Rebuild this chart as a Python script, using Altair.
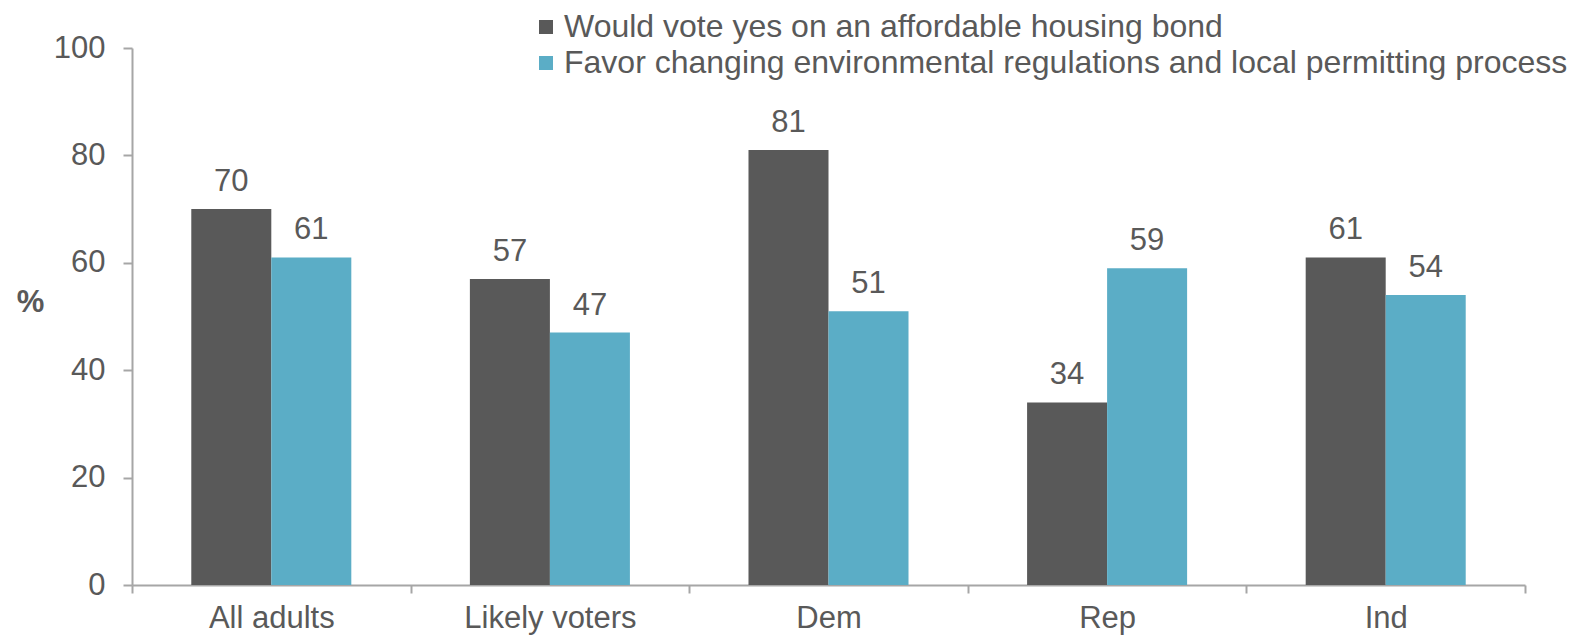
import altair as alt
import pandas as pd

categories = ["All adults", "Likely voters", "Dem", "Rep", "Ind"]
series = [
    "Would vote yes on an affordable housing bond",
    "Favor changing environmental regulations and local permitting process",
]
bond_yes = [70, 57, 81, 34, 61]
favor_change = [61, 47, 51, 59, 54]
colors = ["#595959", "#5BADC6"]
y_ticks = [0, 20, 40, 60, 80, 100]

rows = []
for i, c in enumerate(categories):
    rows.append({"cat": c, "series": series[0], "value": bond_yes[i]})
    rows.append({"cat": c, "series": series[1], "value": favor_change[i]})
df = pd.DataFrame(rows)

FONT = "Liberation Sans"
TXT = "#595959"
AX = "#A6A6A6"
FS = 31

base = alt.Chart(df).encode(
    x=alt.X(
        "cat:N",
        sort=categories,
        scale=alt.Scale(paddingInner=0, paddingOuter=0),
        axis=alt.Axis(
            title=None,
            tickBand="extent",
            labelAngle=0,
            labelFontSize=FS,
            labelFont=FONT,
            labelColor=TXT,
            labelPadding=10,
            domainColor=AX,
            domainWidth=2,
            tickColor=AX,
            tickWidth=2,
            tickSize=8,
        ),
    ),
    xOffset=alt.XOffset(
        "series:N", sort=series, scale=alt.Scale(paddingInner=0, paddingOuter=0.741)
    ),
    y=alt.Y(
        "value:Q",
        scale=alt.Scale(domain=[0, 100]),
        axis=alt.Axis(
            values=y_ticks,
            grid=False,
            title="%",
            titleAngle=0,
            titleFontSize=FS,
            titleFontWeight="bold",
            titleFont=FONT,
            titleColor=TXT,
            titleX=-102,
            titleY=254,
            titleAlign="center",
            titleBaseline="middle",
            labelFontSize=FS,
            labelFont=FONT,
            labelColor=TXT,
            labelPadding=18,
            domainColor=AX,
            domainWidth=2,
            tickColor=AX,
            tickWidth=2,
            tickSize=9,
        ),
    ),
)

bars = base.mark_bar().encode(
    color=alt.Color(
        "series:N",
        sort=series,
        scale=alt.Scale(domain=series, range=colors),
        legend=alt.Legend(
            title=None,
            orient="none",
            legendX=398,
            legendY=-37,
            direction="vertical",
            symbolType="square",
            symbolSize=196,
            symbolStrokeWidth=0,
            labelFontSize=32,
            labelFont=FONT,
            labelColor=TXT,
            labelOffset=2,
            rowPadding=4,
            labelLimit=2000,
        ),
    )
)

labels = base.mark_text(
    baseline="alphabetic", dy=-18, fontSize=FS, font=FONT, color=TXT
).encode(text="value:Q")

chart = (
    alt.layer(bars, labels)
    .properties(
        width=1393,
        height=537,
        autosize=alt.AutoSizeParams(type="none"),
        padding={"left": 124, "top": 40, "right": 43, "bottom": 50},
        background="white",
    )
    .configure_view(stroke=None)
)

chart.save("out.html", embed_options={"renderer": "svg", "actions": False})
